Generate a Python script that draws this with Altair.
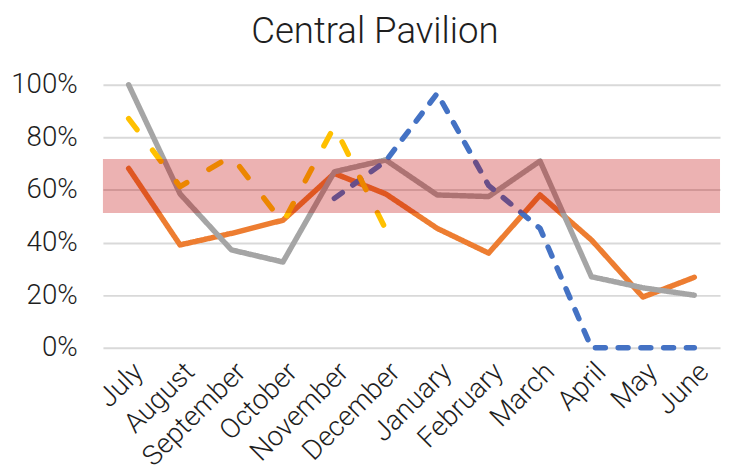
import altair as alt
import pandas as pd

months = ["July", "August", "September", "October", "November", "December",
          "January", "February", "March", "April", "May", "June"]

# series values (fractions); None = no data
grey_vals = [1.00, 0.585, 0.372, 0.326, 0.669, 0.714, 0.581, 0.575, 0.710, 0.270, 0.228, 0.200]
orange_vals = [0.682, 0.391, 0.435, 0.485, 0.663, 0.585, 0.454, 0.360, 0.581, 0.410, 0.193, 0.268]
yellow_vals = [0.871, 0.613, 0.729, 0.475, 0.842, 0.450, None, None, None, None, None, None]
blue_vals = [None, None, None, None, 0.568, 0.710, 0.967, 0.617, 0.454, 0.0, 0.0, 0.0]

band_low = [0.512]
band_high = [0.718]

series_names = ["Orange", "Grey", "Blue", "Yellow"]
series_colors = ["#ED7D31", "#A5A5A5", "#4472C4", "#FFC000"]
series_dash = [[1, 0], [1, 0], [10, 13], [14, 26]]

rows = []
for name, vals in zip(series_names, [orange_vals, grey_vals, blue_vals, yellow_vals]):
    for i, (m, v) in enumerate(zip(months, vals)):
        if v is not None:
            rows.append({"month": m, "value": v, "series": name, "order": i})
df = pd.DataFrame(rows)
band_df = pd.DataFrame({"low": band_low, "high": band_high})

FONT = "Roboto"
TXT = "#1e1e1e"

x_enc = alt.X("month:N", sort=months, scale=alt.Scale(type="point", padding=0.5),
              axis=alt.Axis(title=None, labelAngle=-45, labelFontSize=28,
                            labelFont=FONT, labelFontWeight=300, labelColor=TXT,
                            ticks=False, domain=False, grid=False, labelPadding=10))
y_enc = alt.Y("value:Q", scale=alt.Scale(domain=[0, 1]),
              axis=alt.Axis(title=None, format=".0%", values=[0, 0.2, 0.4, 0.6, 0.8, 1.0],
                            labelFontSize=28, labelFont=FONT, labelFontWeight=300,
                            labelColor=TXT, ticks=False, domain=False,
                            gridColor="#D9D9D9", gridWidth=2, labelPadding=26))

layers = []
for name, color, dash in zip(series_names, series_colors, series_dash):
    layers.append(
        alt.Chart(df[df.series == name]).mark_line(
            color=color, strokeWidth=5.5, strokeDash=dash, strokeCap="round",
            strokeJoin="round"
        ).encode(x=x_enc, y=y_enc, order="order:Q")
    )

band = alt.Chart(band_df).mark_rect(color="#C00000", opacity=0.3).encode(
    y=alt.Y("low:Q"), y2="high:Q"
)

chart = alt.layer(*layers, band).properties(
    width=624, height=266,
    title=alt.TitleParams("Central Pavilion", font=FONT, fontSize=37, fontWeight=300,
                          color=TXT, dx=-37, offset=20),
    autosize=alt.AutoSizeParams(type="none"),
    padding={"left": 96, "top": 75, "right": 2, "bottom": 125},
).configure_view(stroke=None)

chart.save("out.html", embed_options={"renderer": "svg", "actions": False})
